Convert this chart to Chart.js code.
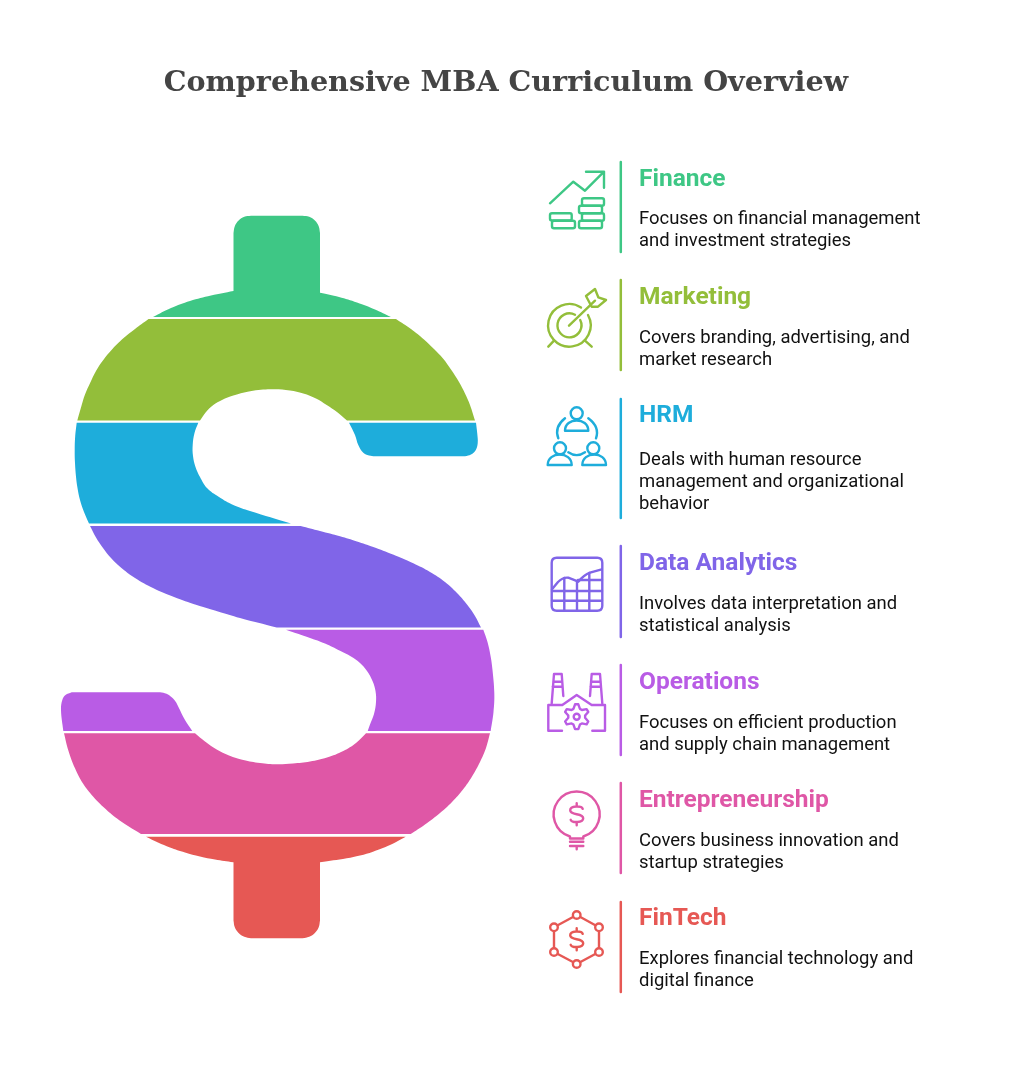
<!DOCTYPE html>
<html>
<head>
<meta charset="utf-8">
<title>Comprehensive MBA Curriculum Overview</title>
<script src="https://cdn.jsdelivr.net/npm/chart.js@4/dist/chart.umd.min.js"></script>
<style>
    html, body { margin: 0; padding: 0; background: #fff; }
    canvas { display: block; }
</style>
</head>
<body>
<canvas id="curriculumChart" width="1012" height="1080"></canvas>
<script>
const chartTitle = 'Comprehensive MBA Curriculum Overview';
const categories = ['Finance', 'Marketing', 'HRM', 'Data Analytics', 'Operations', 'Entrepreneurship', 'FinTech'];
const descriptions = [
    ['Focuses on financial management', 'and investment strategies'],
    ['Covers branding, advertising, and', 'market research'],
    ['Deals with human resource', 'management and organizational', 'behavior'],
    ['Involves data interpretation and', 'statistical analysis'],
    ['Focuses on efficient production', 'and supply chain management'],
    ['Covers business innovation and', 'startup strategies'],
    ['Explores financial technology and', 'digital finance']
];
const colors = ['#3ec785', '#93be3a', '#1eaddb', '#8065e8', '#b95ce5', '#df57a6', '#e65854'];

// rows on the right hand side
const dividerTops = [162, 280, 399, 546, 665, 783, 902];
const dividerBottoms = [252, 370, 518, 637, 755, 873, 992];
const headingBaselines = [186, 304, 422, 570, 689, 807, 925];
const bodyBaselines = [224, 343, 465, 609, 728, 846, 964];

// outlines of the dollar sign bands, a repeated point is a sharp corner
const financeBand = [[153, 317], [171, 308], [190, 301], [211, 295.5], [233.5, 291], [233.5, 291], [233.5, 233], [233.5, 233], [234.8, 226.3], [238.6, 220.6], [244.3, 216.8], [251, 215.7], [251, 215.7], [302.5, 215.7], [302.5, 215.7], [309.2, 216.8], [314.9, 220.6], [318.7, 226.3], [320, 233], [320, 233], [320, 292.7], [320, 292.7], [339, 297], [357, 302.5], [375, 309.5], [391, 317]];
const marketingBand = [[148.5, 319], [396, 319], [396, 319], [411, 329], [424, 339.5], [434, 349], [443, 358.5], [451, 369.5], [459, 382], [465, 393.5], [470, 405], [475, 420.5], [475, 420.5], [347, 420.5], [347, 420.5], [337, 412], [326.7, 405], [316, 398.5], [303.3, 393.5], [290, 390.5], [273.3, 389.3], [253, 390.8], [233.3, 395.5], [222, 400], [213.3, 405], [206, 412], [200, 420.5], [200, 420.5], [77.3, 420.5], [77.3, 420.5], [81.7, 405], [85, 394.5], [90, 383.3], [96, 371], [103.3, 360], [112, 349.5], [123.3, 338.3], [135, 329], [148.5, 319]];
const hrmBandLeft = [[76.7, 422.7], [75.2, 436], [74.7, 450], [75, 463], [76, 476.7], [77.5, 488], [80, 500], [84, 512], [89, 523.5], [89, 523.5], [291, 523.5], [291, 523.5], [250, 511], [233.3, 505], [219, 497], [207, 488], [200, 477], [195.5, 467], [193, 456], [192.7, 445], [194.5, 433], [198.3, 422.7]];
const hrmBandRight = [[349, 422.7], [355, 435], [358.3, 445], [363.3, 452.7], [369, 455.5], [375, 456.3], [375, 456.3], [465, 456.3], [465, 456.3], [471, 454.5], [475.5, 450.5], [477.7, 443.3], [477.2, 433], [476, 422.7]];
const dataBand = [[90, 526], [300.7, 526], [300.7, 526], [320, 531], [340, 536.3], [357, 541.5], [373.3, 547], [393, 554.5], [413.3, 563.3], [430, 572], [445, 582], [457, 593], [467, 604.5], [475, 616], [481, 627.5], [481, 627.5], [276.7, 627.5], [276.7, 627.5], [240, 618], [218, 611.5], [196.7, 605], [174, 597], [153, 588], [135, 578], [120, 566.7], [111, 558], [103, 548], [96, 537.5], [90, 526]];
const operationsBandRight = [[286, 629.7], [483.3, 629.7], [483.3, 629.7], [487.5, 642], [490.7, 656.7], [492.5, 670], [494.3, 693], [493.5, 712], [490.7, 731], [490.7, 731], [367.7, 731], [367.7, 731], [370, 724.5], [374, 714], [376, 702], [375.5, 691], [372.5, 681], [367, 671], [360, 663], [351, 656.5], [340, 650.7], [325, 643.5], [310, 638], [286, 629.7]];
const operationsBandLeft = [[63.3, 731], [61, 710], [62.3, 700], [65.5, 695], [71.7, 692.3], [71.7, 692.3], [160, 692.3], [160, 692.3], [166.5, 693.8], [171.7, 697.3], [175.5, 701.5], [178.3, 706.7], [185, 720], [192.3, 731]];
const entrepreneurshipBand = [[64, 733.3], [68.5, 751], [75, 768.3], [83, 783.5], [93.3, 796.7], [104.5, 808], [116.7, 818.3], [128, 826], [141, 834], [141, 834], [410.7, 834], [410.7, 834], [425, 824.5], [440, 813], [452, 802], [463, 789.5], [472, 776.5], [480, 762], [486, 748], [490, 733.3], [490, 733.3], [366, 733.3], [366, 733.3], [356, 743], [343.3, 751], [327, 757.5], [310, 761.5], [293, 763.5], [276.7, 764.3], [260, 763], [243.3, 760], [229, 755.5], [216.7, 749.5], [205, 741.5], [195, 733.3]];
const fintechBand = [[146, 836.7], [405.7, 836.7], [405.7, 836.7], [390, 845], [373, 851.7], [360, 855.5], [346.7, 858.3], [320, 862.3], [320, 862.3], [320, 920.5], [320, 920.5], [318.7, 927.2], [314.9, 932.9], [309.2, 936.7], [302.5, 938.2], [302.5, 938.2], [251, 938.2], [251, 938.2], [244.3, 936.7], [238.6, 932.9], [234.8, 927.2], [233.5, 920.5], [233.5, 920.5], [233.5, 862.3], [233.5, 862.3], [215, 859.5], [200, 856.5], [185, 852.5], [170, 847.5], [158, 842.5], [146, 836.7]];

const bands = [
    { points: financeBand, row: 0 },
    { points: marketingBand, row: 1 },
    { points: hrmBandLeft, row: 2 },
    { points: hrmBandRight, row: 2 },
    { points: dataBand, row: 3 },
    { points: operationsBandRight, row: 4 },
    { points: operationsBandLeft, row: 4 },
    { points: entrepreneurshipBand, row: 5 },
    { points: fintechBand, row: 6 }
];

function dollarPath(cx, cy) {
    return `M${cx + 6} ${cy - 5.5} C${cx + 5} ${cy - 8.5} ${cx - 6.5} ${cy - 9} ${cx - 6.5} ${cy - 4} C${cx - 6.5} ${cy + 1.5} ${cx + 6.5} ${cy - 1.5} ${cx + 6.5} ${cy + 4} C${cx + 6.5} ${cy + 9} ${cx - 5} ${cy + 8.5} ${cx - 6} ${cy + 5.5} M${cx} ${cy - 11} V${cy - 8} M${cx} ${cy + 8} V${cy + 11}`;
}

function gearPath(cx, cy) {
    let d = '';
    for (let i = 0; i < 24; i++) {
        const a = (i * 15 - 90 - 7.5) * Math.PI / 180;
        const r = [12.5, 12.5, 8.5, 8.5][i % 4];
        d += `${i ? 'L' : 'M'}${cx + r * Math.cos(a)} ${cy + r * Math.sin(a)} `;
    }
    return d + 'Z';
}

function circlePath(cx, cy, r) {
    return `M${cx - r} ${cy} A${r} ${r} 0 1 0 ${cx + r} ${cy} A${r} ${r} 0 1 0 ${cx - r} ${cy} Z`;
}

// one list of svg paths per row
const icons = [
    [
        'M550 203.3 L573.3 181.7 L585 190.7 L604 171.7 M586 171.7 H604 V187.7',
        'M552 213.3 H570 Q571.7 213.3 571.7 215 V218.5 Q571.7 220.5 570 220.5 H552 Q550 220.5 550 218.5 V215 Q550 213.3 552 213.3 Z',
        'M554 220.7 H573 Q575 220.7 575 222.7 V226.3 Q575 228.3 573 228.3 H554 Q552 228.3 552 226.3 V222.7 Q552 220.7 554 220.7 Z',
        'M584 198.3 H602 Q604 198.3 604 200.3 V203.7 Q604 205.7 602 205.7 H584 Q582 205.7 582 203.7 V200.3 Q582 198.3 584 198.3 Z',
        'M581 205.7 H600 Q602 205.7 602 207.7 V211.3 Q602 213.3 600 213.3 H581 Q579 213.3 579 211.3 V207.7 Q579 205.7 581 205.7 Z',
        'M584 213.3 H602 Q604 213.3 604 215.3 V218.7 Q604 220.7 602 220.7 H584 Q582 220.7 582 218.7 V215.3 Q582 213.3 584 213.3 Z',
        'M581 220.7 H600 Q602 220.7 602 222.7 V226.3 Q602 228.3 600 228.3 H581 Q579 228.3 579 226.3 V222.7 Q579 220.7 581 220.7 Z'
    ],
    [
        'M581 307.5 A21.3 21.3 0 1 0 588 315',
        'M575 314.7 A12 12 0 1 0 580.2 320',
        'M569 325.7 L595 300.7',
        'M591.7 306.7 L586 296 L595 289 L598.3 297.3 L606 300 L598 306.7 Z',
        'M548.3 346.7 L554 340.7 M591.7 346.7 L585 340.7'
    ],
    [
        circlePath(576.7, 413.3, 6),
        'M565 430.7 C565 417 588.3 417 588.3 430.7 Z',
        circlePath(560, 448.3, 6),
        'M547.7 465 C547.7 451 571.7 451 571.7 465 Z',
        circlePath(593.3, 448.3, 6),
        'M582.3 465 C582.3 451 606 451 606 465 Z',
        'M565 418.3 Q554 427 558.3 438.3 M588.3 418.3 Q600 427 596 438.3 M568.3 452.3 Q576.7 458 585 452.3'
    ],
    [
        'M556.7 557.7 H597.3 Q602.3 557.7 602.3 562.7 V605.7 Q602.3 610.7 597.3 610.7 H556.7 Q551.7 610.7 551.7 605.7 V562.7 Q551.7 557.7 556.7 557.7 Z',
        'M552 589.3 L558 582 Q563 577 568.3 577.7 L578.3 581.7 Q584 575 590 572.7 L601.7 569.3',
        'M564.3 578 V610 M577 581 V610 M589.3 573 V610',
        'M552 591 H602 M552 600.7 H602 M578 580 H602'
    ],
    [
        'M562 730.7 H548.3 V705 H562.3 L576.7 695 L591.7 705 H605 V730.7 H592.3',
        'M551.7 703.3 L554 674 H561.7 L563.3 696 M553.3 681.7 H562 M552.7 686.7 H562.5',
        'M590 696 L591.7 674 H600 L602.3 703.3 M591 681.7 H600.7 M590.5 686.7 H601',
        gearPath(576.7, 716.7),
        circlePath(576.7, 716.7, 3)
    ],
    [
        'M570 836.5 A23 23 0 1 1 583.3 836.5 V838.5 H570 Z',
        'M570 841.7 H583.3 M570 846 H583.3 M576.7 846 V849.3',
        dollarPath(576.7, 814.3)
    ],
    [
        'M576.7 915 L599 927.3 V952 L576.7 964 L554 952 V927.3 Z',
        dollarPath(576.7, 939.3)
    ]
];
const fintechNodes = [[576.7, 915], [599, 927.3], [599, 952], [576.7, 964], [554, 952], [554, 927.3]];

// Text and icons are not scale driven data, they go in on top of the datasets
const overlayPlugin = {
    id: 'overlay',
    afterDraw(chart) {
        const ctx = chart.ctx;
        const xAt = v => chart.scales.x.getPixelForValue(v);
        const yAt = v => chart.scales.y.getPixelForValue(v);
        ctx.save();

        ctx.textAlign = 'center';
        ctx.textBaseline = 'alphabetic';
        ctx.fillStyle = '#444444';
        ctx.font = 'bold 28.6px "DejaVu Serif"';
        ctx.fillText(chartTitle, xAt(506), yAt(90.5));

        ctx.textAlign = 'left';
        categories.forEach((name, i) => {
            ctx.fillStyle = colors[i];
            ctx.font = 'bold 24.5px Roboto';
            ctx.fillText(name, xAt(639), yAt(headingBaselines[i]));
            ctx.fillStyle = '#111111';
            ctx.font = '18.45px Roboto';
            descriptions[i].forEach((line, j) => {
                ctx.fillText(line, xAt(639), yAt(bodyBaselines[i] + j * 22));
            });
        });

        ctx.translate(xAt(0), yAt(0));
        ctx.lineWidth = 2.4;
        ctx.lineCap = 'round';
        ctx.lineJoin = 'round';
        icons.forEach((paths, i) => {
            ctx.strokeStyle = colors[i];
            paths.forEach(d => ctx.stroke(new Path2D(d)));
        });
        ctx.fillStyle = '#fff';
        ctx.strokeStyle = colors[6];
        fintechNodes.forEach(([x, y]) => {
            ctx.beginPath();
            ctx.arc(x, y, 3.8, 0, Math.PI * 2);
            ctx.fill();
            ctx.stroke();
        });
        ctx.restore();
    }
};

const datasets = [];

bands.forEach(band => {
    datasets.push({
        data: band.points.map(([x, y]) => ({ x, y })),
        showLine: true,
        fill: 'shape',
        backgroundColor: colors[band.row],
        borderWidth: 0,
        pointRadius: 0,
        tension: 0.4
    });
});

categories.forEach((name, i) => {
    datasets.push({
        label: name,
        data: [{ x: 620.8, y: dividerTops[i] }, { x: 620.8, y: dividerBottoms[i] }],
        showLine: true,
        fill: false,
        borderColor: colors[i],
        borderWidth: 2.5,
        borderCapStyle: 'round',
        pointRadius: 0
    });
});

new Chart(document.getElementById('curriculumChart').getContext('2d'), {
    type: 'scatter',
    data: { datasets },
    options: {
        responsive: false,
        animation: false,
        layout: { padding: 0 },
        scales: {
            x: { type: 'linear', display: false, min: 0, max: 1012 },
            y: { type: 'linear', display: false, min: 0, max: 1080, reverse: true }
        },
        plugins: {
            legend: { display: false },
            title: { display: false },
            tooltip: { enabled: false }
        }
    },
    plugins: [overlayPlugin]
});
</script>
</body>
</html>
